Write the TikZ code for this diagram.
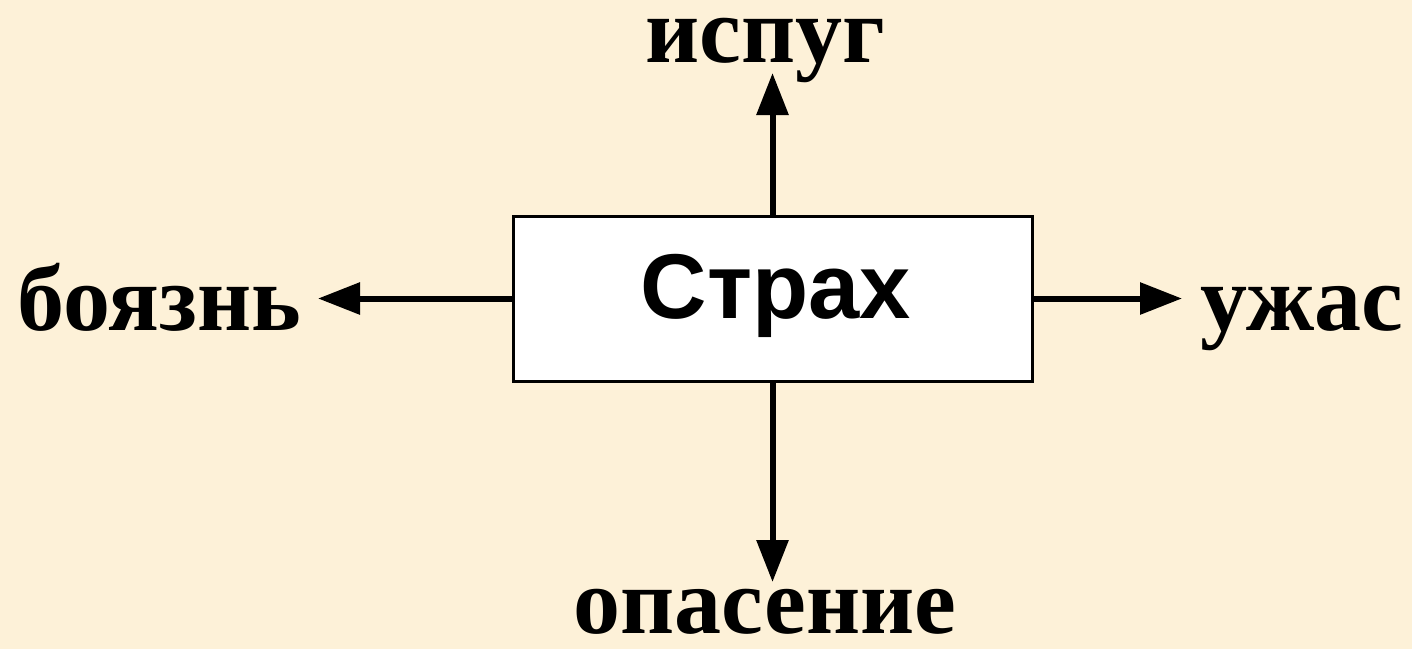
\documentclass[tikz,border=0pt]{standalone}
\usepackage{fontspec}
\setmainfont{Liberation Serif}
\newfontfamily\arialfont{Liberation Sans}
\usetikzlibrary{arrows.meta}
\definecolor{bgcream}{HTML}{FDF1D8}
\tikzset{
  lbl/.style={font=\fontsize{47}{53}\selectfont\bfseries, inner sep=0pt, text=black},
  arr/.style={line width=3pt, -{Triangle[length=21pt,width=15.5pt]}},
  mainbox/.style={draw=black, line width=1.5pt, fill=white, minimum width=259.5pt, minimum height=82.5pt, inner sep=0pt}
}
\begin{document}
\begin{tikzpicture}[x=0.5pt,y=-0.5pt]
\fill[bgcream] (0,0) rectangle (1412,649);
\useasboundingbox (0,0) rectangle (1412,649);
\node[mainbox] (box) at (772.5,298.5) {};
\node[anchor=base, inner sep=0pt, font=\arialfont\fontsize{46}{52}\selectfont\bfseries] (strax) at (776,318) {Страх};
\node[lbl, anchor=base west] (bojazn) at (17,330) {боязнь};
\node[lbl, anchor=base west] (uzhas) at (1200,330) {ужас};
\node[lbl, anchor=base] (ispug) at (765,62) {испуг};
\node[lbl, anchor=base] (opasenie) at (765,633) {опасение};
\coordinate (tipL) at (318,298.5);
\coordinate (tipR) at (1182,298.5);
\coordinate (tipT) at (772.5,73);
\coordinate (tipB) at (772.5,582);
\draw[arr] (box.west) -- (tipL);
\draw[arr] (box.east) -- (tipR);
\draw[arr] (box.north) -- (tipT);
\draw[arr] (box.south) -- (tipB);
\end{tikzpicture}
\end{document}
